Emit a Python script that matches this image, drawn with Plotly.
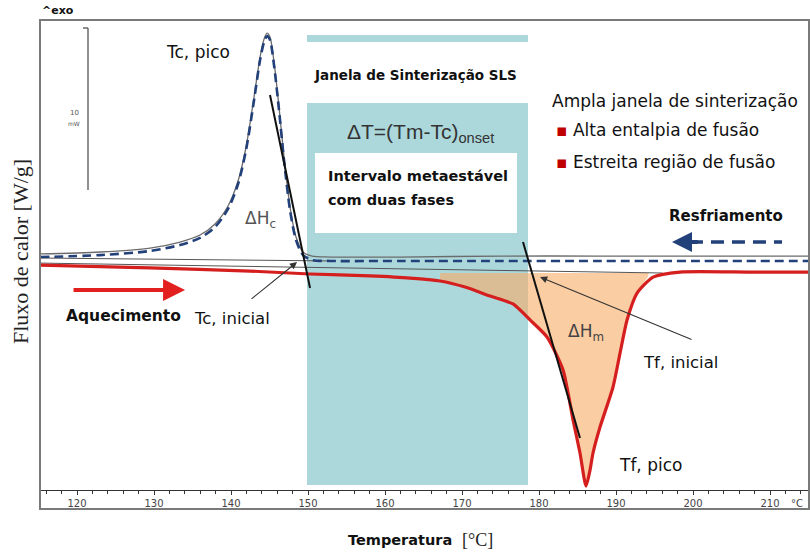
import plotly.graph_objects as go

# ---------------- data (temperature in °C, heat flow in mW, exo up) ----------------
cool_T = [115.19, 122.99, 129.48, 133.38, 135.97, 137.92, 139.61, 140.91, 141.95, 142.99,
          143.77, 144.29, 144.68, 145.06, 145.58, 146.23, 146.88, 147.66, 148.44, 149.35,
          150.52, 152.86, 161.95, 174.94, 187.92, 200.91, 215.06]
cool_dashed = [0.06, 0.18, 0.43, 0.80, 1.23, 1.90, 3.01, 4.54, 6.63, 9.69,
               12.15, 13.25, 13.62, 13.37, 11.84, 9.08, 6.01, 2.94, 1.10, 0.18,
               -0.12, -0.18, -0.18, -0.18, -0.18, -0.18, -0.18]
cool_solid = [0.25, 0.37, 0.61, 0.98, 1.41, 2.09, 3.19, 4.72, 6.81, 9.88,
              12.33, 13.44, 13.80, 13.56, 12.03, 9.26, 6.20, 3.13, 1.29, 0.37,
              0.12, 0.06, 0.06, 0.12, 0.12, 0.12, 0.12]

heat_T = [115.19, 129.48, 142.47, 150.26, 158.05, 163.25, 167.14, 170.39, 173.64, 176.62,
          178.83, 181.04, 183.12, 184.42, 185.32, 186.10, 186.62, 187.01, 187.92, 189.61,
          190.52, 191.43, 192.73, 194.81, 198.31, 207.40, 215.06]
heat_y = [-0.43, -0.61, -0.80, -0.98, -1.10, -1.23, -1.41, -1.78, -2.33, -2.82,
          -3.80, -4.85, -6.87, -9.94, -11.96, -13.99, -13.01, -11.96, -10.37, -7.91,
          -5.83, -3.80, -2.15, -1.17, -0.86, -0.86, -0.86]

# melting area (between heating curve and its baseline)
melt_T = [167.14, 170.39, 173.64, 176.62, 178.83, 181.04, 183.12, 184.42, 185.32, 186.10,
          186.62, 187.01, 187.92, 189.61, 190.52, 191.43, 192.73, 194.20, 194.20, 167.14]
melt_y = [-1.41, -1.78, -2.33, -2.82, -3.80, -4.85, -6.87, -9.94, -11.96, -13.99,
          -13.01, -11.96, -10.37, -7.91, -5.83, -3.80, -2.15, -1.10, -0.92, -0.92]

# baselines and onset tangents
base_cool_T = [115.19, 152.86]
base_cool_y = [0.00, -0.18]
base_heat_T = [115.19, 196.00]
base_heat_y = [-0.31, -0.92]
tan_c_T = [145.06, 150.26]
tan_c_y = [10.00, -1.84]
tan_m_T = [177.92, 185.32]
tan_m_y = [0.98, -11.04]

# direction arrows
heat_arrow_T = [119.35, 134.03]
heat_arrow_y = [-1.96, -1.96]
cool_arrow_T = [199.60, 211.56]
cool_arrow_y = [0.98, 0.98]
cool_arrow_head_T = 197.27

# pointer arrows (tail -> head)
tc_on_tail = (142.47, -2.58)
tc_on_head = (148.57, -0.25)
tf_on_tail = (200.00, -5.03)
tf_on_head = (180.13, -1.17)

x_ticks = [120, 130, 140, 150, 160, 170, 180, 190, 200, 210]

# ---------------- layout helpers ----------------
W, H = 810, 553
ML, MT, MR, MB = 40, 20, 1, 63
PW, PH = W - ML - MR, H - MT - MB


def xp(px):
    return (px - ML) / PW


def yp(py):
    return (H - MB - py) / PH


SANS = "DejaVu Sans"
SERIF = "Liberation Serif"
TEAL = "#acd8dc"
RED = "#d51f1f"
NAVY = "#22407a"

fig = go.Figure()

fig.add_trace(go.Scatter(x=melt_T, y=melt_y, mode="lines", fill="toself",
                         fillcolor="rgba(248,172,100,0.60)", line=dict(width=0),
                         hoverinfo="skip", showlegend=False))
fig.add_trace(go.Scatter(x=base_cool_T, y=base_cool_y, mode="lines",
                         line=dict(color="#555555", width=1), showlegend=False))
fig.add_trace(go.Scatter(x=base_heat_T, y=base_heat_y, mode="lines",
                         line=dict(color="#555555", width=1), showlegend=False))
fig.add_trace(go.Scatter(x=cool_T, y=cool_solid, mode="lines", line_shape="spline",
                         line=dict(color="#6b6b6b", width=1.3, smoothing=0.8), showlegend=False))
fig.add_trace(go.Scatter(x=cool_T, y=cool_dashed, mode="lines", line_shape="spline",
                         line=dict(color=NAVY, width=2.6, dash="9px,5px", smoothing=0.8),
                         showlegend=False))
fig.add_trace(go.Scatter(x=heat_T, y=heat_y, mode="lines", line_shape="spline",
                         line=dict(color=RED, width=3.2, smoothing=0.6), showlegend=False))
fig.add_trace(go.Scatter(x=tan_c_T, y=tan_c_y, mode="lines",
                         line=dict(color="#111111", width=2), showlegend=False))
fig.add_trace(go.Scatter(x=tan_m_T, y=tan_m_y, mode="lines",
                         line=dict(color="#111111", width=2), showlegend=False))
fig.add_trace(go.Scatter(x=cool_arrow_T, y=cool_arrow_y, mode="lines",
                         line=dict(color=NAVY, width=3.5, dash="13px,8px"), showlegend=False))

shapes = [
    dict(type="rect", xref="paper", yref="paper", x0=xp(307), x1=xp(528), y0=yp(485), y1=yp(103),
         fillcolor=TEAL, line=dict(width=0), layer="below"),
    dict(type="rect", xref="paper", yref="paper", x0=xp(307), x1=xp(528), y0=yp(42), y1=yp(35),
         fillcolor=TEAL, line=dict(width=0), layer="below"),
    dict(type="rect", xref="paper", yref="paper", x0=xp(315), x1=xp(517), y0=yp(233), y1=yp(153),
         fillcolor="white", line=dict(width=0), layer="below"),
    # frame
    dict(type="rect", xref="paper", yref="paper", x0=0, x1=1, y0=yp(509), y1=1,
         fillcolor="rgba(0,0,0,0)", line=dict(color="#7a7a7a", width=2), layer="above"),
    # scale bar
    dict(type="line", xref="paper", yref="paper", x0=xp(88), x1=xp(88), y0=yp(190), y1=yp(28),
         line=dict(color="#6a6a6a", width=1.5)),
    dict(type="line", xref="paper", yref="paper", x0=xp(83), x1=xp(88), y0=yp(28), y1=yp(28),
         line=dict(color="#6a6a6a", width=1.5)),
]

ann = []


def txt(text, px, py, size=13, xanchor="left", color="#111111", family=SANS, **kw):
    ann.append(dict(text=text, x=xp(px), y=yp(py), xref="paper", yref="paper",
                    xanchor=xanchor, yanchor="middle", showarrow=False,
                    font=dict(size=size, color=color, family=family), **kw))


txt("Tc, pico", 164, 52, 17)
txt("ΔH<sub>c</sub>", 243, 220, 17, color="#555555")
txt("Tc, inicial", 192, 318, 16.5)
txt("<b>Aquecimento</b>", 64, 316, 15.5)
txt("<b>Resfriamento</b>", 667, 216, 15)
txt("ΔH<sub>m</sub>", 566, 332, 17, color="#444444")
txt("Tf, inicial", 641, 362, 16.5)
txt("Tf, pico", 617, 465, 17)
txt("<b>Janela de Sinterização SLS</b>", 415, 75, 13.5, xanchor="center")
txt("ΔT=(Tm-Tc)<sub>onset</sub>", 420, 133, 21, xanchor="center", color="#333333",
    family="Liberation Sans")
txt("<b>Intervalo metaestável</b>", 326, 176, 14.5)
txt("<b>com duas fases</b>", 326, 200, 14.5)
txt("Ampla janela de sinterização", 550, 101, 17)
txt("<span style='color:#c00000'>▪</span> Alta entalpia de fusão", 554, 130, 17)
txt("<span style='color:#c00000'>▪</span> Estreita região de fusão", 554, 162, 17)
txt("<b>^exo</b>", 40, 10, 11)
txt("10", 74, 113, 7, xanchor="center", color="#555555")
txt("mW", 74, 123, 6, xanchor="center", color="#555555")
txt("°C", 797, 503, 10, xanchor="center", color="#444444")
txt("<b>Temperatura</b>", 346, 540, 14.5)
txt("[°C]", 460, 540, 18, family=SERIF, color="#222222")
txt("Fluxo de calor [W/g]", 20, 252, 22, xanchor="center", family=SERIF, color="#222222",
    textangle=-90)

# arrows
ann.append(dict(x=heat_arrow_T[1], y=heat_arrow_y[1], ax=heat_arrow_T[0], ay=heat_arrow_y[0],
                xref="x", yref="y", axref="x", ayref="y", text="", showarrow=True,
                arrowhead=2, arrowsize=1.1, arrowwidth=4, arrowcolor="#e32020"))
ann.append(dict(x=cool_arrow_head_T, y=cool_arrow_y[0], ax=cool_arrow_T[0] + 1.2, ay=cool_arrow_y[0],
                xref="x", yref="y", axref="x", ayref="y", text="", showarrow=True,
                arrowhead=2, arrowsize=1.0, arrowwidth=4, arrowcolor=NAVY))
ann.append(dict(x=tc_on_head[0], y=tc_on_head[1], ax=tc_on_tail[0], ay=tc_on_tail[1],
                xref="x", yref="y", axref="x", ayref="y", text="", showarrow=True,
                arrowhead=2, arrowsize=1.3, arrowwidth=1.1, arrowcolor="#333333"))
ann.append(dict(x=tf_on_head[0], y=tf_on_head[1], ax=tf_on_tail[0], ay=tf_on_tail[1],
                xref="x", yref="y", axref="x", ayref="y", text="", showarrow=True,
                arrowhead=2, arrowsize=1.3, arrowwidth=1.1, arrowcolor="#333333"))

fig.update_layout(
    width=W, height=H,
    margin=dict(l=ML, r=MR, t=MT, b=MB, pad=0),
    paper_bgcolor="white", plot_bgcolor="white",
    shapes=shapes, annotations=ann, showlegend=False,
    xaxis=dict(range=[115.19, 215.06], tickvals=x_ticks, ticks="outside", ticklen=4,
               tickcolor="#333333", showline=True, linecolor="#333333", linewidth=1,
               showgrid=False, zeroline=False,
               tickfont=dict(size=10, color="#444444", family=SANS),
               minor=dict(dtick=2, tick0=0, ticks="outside", ticklen=3, tickcolor="#333333")),
    yaxis=dict(range=[-14.23, 14.60], visible=False, showgrid=False, zeroline=False),
)

fig.write_html("out.html")
